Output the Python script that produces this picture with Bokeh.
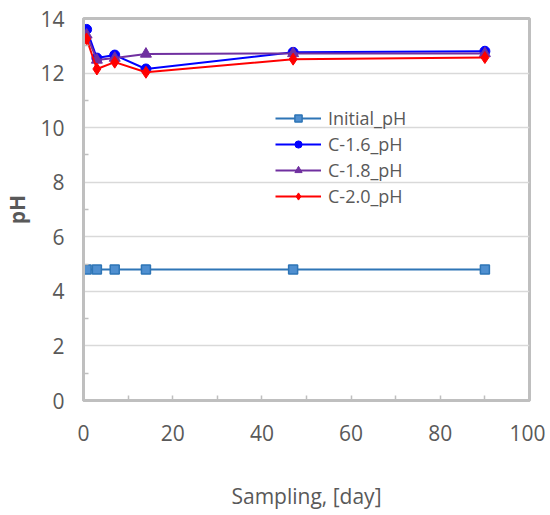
from bokeh.plotting import figure
from bokeh.models import FixedTicker, Legend, LegendItem, Range1d
from bokeh.embed import file_html
from bokeh.resources import INLINE

days = [0.7, 3, 7, 14, 47, 90]
initial_ph = [4.8, 4.8, 4.8, 4.8, 4.8, 4.8]
c16_ph = [13.6, 12.55, 12.66, 12.15, 12.76, 12.8]
c18_ph = [13.4, 12.48, 12.55, 12.7, 12.72, 12.72]
c20_ph = [13.25, 12.15, 12.4, 12.03, 12.51, 12.57]

x_ticks = [0, 20, 40, 60, 80, 100]
x_minor = [10, 30, 50, 70, 90]
y_ticks = [0, 2, 4, 6, 8, 10, 12, 14]
y_minor = [1, 3, 5, 7, 9, 11, 13]

FONT = "Open Sans"
TXT = "#595959"
GRAY = "#bfbfbf"

p = figure(width=545, height=512, output_backend="svg", toolbar_location=None,
           x_range=Range1d(0, 100), y_range=Range1d(0, 14),
           min_border_left=83, min_border_right=16, min_border_top=18, min_border_bottom=10)

p.xgrid.grid_line_color = None
p.ygrid.grid_line_color = "#d9d9d9"
p.ygrid.grid_line_width = 1.5
p.outline_line_color = GRAY
p.outline_line_width = 3
p.background_fill_color = "white"
p.border_fill_color = "white"

p.xaxis.ticker = FixedTicker(ticks=x_ticks, minor_ticks=x_minor)
p.yaxis.ticker = FixedTicker(ticks=y_ticks, minor_ticks=y_minor)
for ax in (p.xaxis[0], p.yaxis[0]):
    ax.axis_line_color = GRAY
    ax.axis_line_width = 3
    ax.major_tick_line_color = GRAY
    ax.minor_tick_line_color = GRAY
    ax.major_tick_line_width = 1.5
    ax.minor_tick_line_width = 1.5
    ax.major_tick_out = 0
    ax.minor_tick_out = 0
    ax.major_label_text_font = FONT
    ax.major_label_text_font_size = "21px"
    ax.major_label_text_color = TXT
    ax.axis_label_text_font = FONT
    ax.axis_label_text_font_size = "21px"
    ax.axis_label_text_color = TXT

p.xaxis.major_tick_in = 5
p.xaxis.minor_tick_in = 5
p.yaxis.major_tick_in = 0
p.yaxis.minor_tick_in = 5
p.xaxis.major_label_standoff = 24
p.yaxis.major_label_standoff = 19
p.xaxis.axis_label = "Sampling, [day]"
p.xaxis.axis_label_text_font_style = "normal"
p.xaxis.axis_label_standoff = 38
p.yaxis.axis_label = "pH"
p.yaxis.axis_label_text_font_style = "bold"
p.yaxis.axis_label_standoff = 6

r0l = p.line(days, initial_ph, line_color="#2e75b6", line_width=2)
r0m = p.scatter(days, initial_ph, marker="square", size=9, fill_color="#4f8fd0",
                line_color="#2e75b6", line_width=1.5)
r1l = p.line(days, c16_ph, line_color="#0000ff", line_width=2)
r1m = p.scatter(days, c16_ph, marker="circle", size=10, fill_color="#0000ff", line_color="#0000ff")
r2l = p.line(days, c18_ph, line_color="#7030a0", line_width=2)
r2m = p.scatter(days, c18_ph, marker="triangle", size=11, fill_color="#7030a0", line_color="#7030a0")
r3l = p.line(days, c20_ph, line_color="#ff0000", line_width=2)
r3m = p.scatter(days, c20_ph, marker="diamond", size=12, fill_color="#ff0000", line_color="#ff0000")

legend = Legend(items=[
    LegendItem(label="Initial_pH", renderers=[r0l, r0m]),
    LegendItem(label="C-1.6_pH", renderers=[r1l, r1m]),
    LegendItem(label="C-1.8_pH", renderers=[r2l, r2m]),
    LegendItem(label="C-2.0_pH", renderers=[r3l, r3m]),
], location=(190, 190))
legend.background_fill_alpha = 0
legend.border_line_alpha = 0
legend.label_text_font = FONT
legend.label_text_font_size = "18px"
legend.label_text_color = TXT
legend.glyph_width = 46
legend.glyph_height = 18
legend.label_height = 18
legend.spacing = 2
legend.padding = 2
legend.label_standoff = 7
p.add_layout(legend)

open("out.html", "w").write(file_html(p, INLINE))
